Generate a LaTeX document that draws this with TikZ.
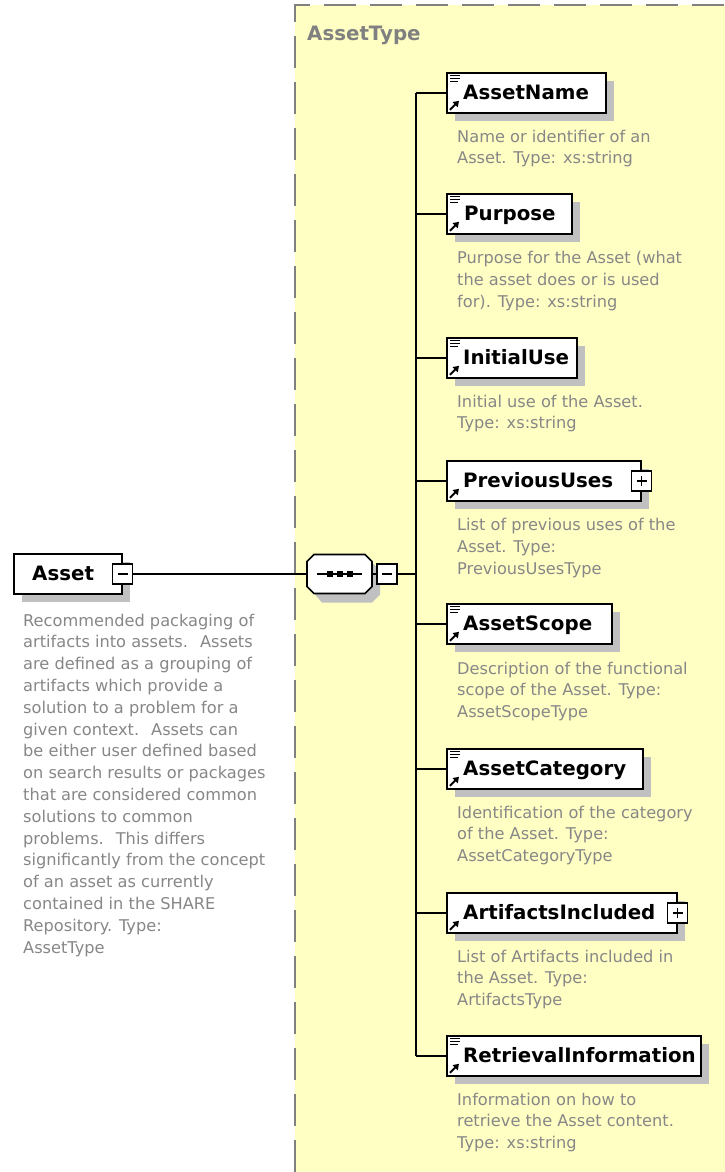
\documentclass[tikz,border=0pt]{standalone}
\usepackage{fontspec}
\setmainfont{DejaVu Sans}
\usetikzlibrary{shadows,arrows.meta}
\definecolor{bgyellow}{RGB}{255,255,196}
\definecolor{descgray}{RGB}{135,135,135}
\definecolor{shadowgray}{RGB}{192,192,192}
\definecolor{bordergray}{RGB}{128,128,128}
\begin{document}
\begin{tikzpicture}[x=1pt,y=-1pt,
  elembox/.style={draw=black, line width=1.6pt, fill=white, minimum height=40pt, inner sep=0pt, anchor=west,
    general shadow={fill=shadowgray, shadow xshift=8pt, shadow yshift=-8pt}},
  lbl/.style={font=\fontsize{19.8}{23}\selectfont\bfseries, inner sep=0pt, anchor=base west},
  desc/.style={font=\fontsize{16.2}{21.8}\selectfont, text=descgray, align=left, inner sep=0pt, anchor=base west},
  pmbox/.style={draw=black, line width=1.4pt, fill=white, minimum size=20pt, inner sep=0pt},
  conn/.style={line width=1.6pt, black},
  pmsign/.style={line width=1.4pt},
  iconline/.style={line width=1.1pt},
  iconarrow/.style={line width=2pt, -{Triangle[length=5.5pt,width=7pt]}}
]
\useasboundingbox (0,0) rectangle (725,1172);
\fill[white] (0,0) rectangle (725,1172);
% complex type region
\fill[bgyellow] (295,5) rectangle (725,1172);
\draw[bordergray, line width=2pt, dash pattern=on 32pt off 14pt] (295,1172) -- (295,5) -- (725,5);
\node[font=\fontsize{19.8}{23}\selectfont\bfseries, text=bordergray, inner sep=0pt, anchor=base west] (title) at (307,41) {AssetType};

% root element
\node[elembox, minimum width=108pt] (asset) at (13,574) {};
\node[lbl] (assetL) at (32,580.5) {Asset};
\node[pmbox] (assetM) at (asset.east) {};
\draw[pmsign] ([xshift=-5pt]assetM.center) -- ([xshift=5pt]assetM.center);
% anchor base = baseline of last line
\node[desc] (assetD) at (23,953) {Recommended packaging of\\artifacts into assets.~ Assets\\are defined as a grouping of\\artifacts which provide a\\solution to a problem for a\\given context.~ Assets can\\be either user defined based\\on search results or packages\\that are considered common\\solutions to common\\problems.~ This differs\\significantly from the concept\\of an asset as currently\\contained in the SHARE\\Repository. Type:\\AssetType};

% sequence compositor (octagon)
\fill[shadowgray] (322,562.5) -- (372,562.5) -- (380,570.5) -- (380,594.5) -- (372,602.5) -- (322,602.5) -- (315,594.5) -- (315,570.5) -- cycle;
\draw[line width=1.6pt, fill=white] (314,554.5) -- (365,554.5) -- (372,561.5) -- (372,586.5) -- (365,593.5) -- (314,593.5) -- (307,586.5) -- (307,561.5) -- cycle;
\node[minimum width=65pt, minimum height=39pt, inner sep=0pt] (seq) at (339.5,574) {};
\draw[line width=1.4pt] ([xshift=10pt]seq.west) -- ([xshift=-10pt]seq.east);
\foreach \dx in {-10,0,10} \fill ([xshift=\dx pt]seq.center) +(-3,-3) rectangle +(3,3);
\node[pmbox] (seqM) at (387,574) {};
\draw[pmsign] ([xshift=-5pt]seqM.center) -- ([xshift=5pt]seqM.center);
\coordinate (sp) at (416,574);

\draw[conn] (assetM.east) -- (seq.west);
\draw[conn] (seq.east) -- (seqM.west);
\draw[conn] (seqM.east) -- (sp);

% child elements
\node[elembox, minimum width=159pt] (an) at (446,93) {};
\node[elembox, minimum width=125pt] (pu) at (446,214) {};
\node[elembox, minimum width=130pt] (iu) at (446,358) {};
\node[elembox, minimum width=194pt] (pv) at (446,481) {};
\node[elembox, minimum width=165pt] (as) at (446,624) {};
\node[elembox, minimum width=196pt] (ac) at (446,769) {};
\node[elembox, minimum width=230pt] (ai) at (446,913) {};
\node[elembox, minimum width=254pt] (ri) at (446,1056) {};

\node[lbl] (anL) at (463,99.5) {AssetName};
\node[lbl] (puL) at (464,220.5) {Purpose};
\node[lbl] (iuL) at (463,364.5) {InitialUse};
\node[lbl] (pvL) at (463,487.5) {PreviousUses};
\node[lbl] (asL) at (463,630.5) {AssetScope};
\node[lbl] (acL) at (463,775.5) {AssetCategory};
\node[lbl] (aiL) at (463,919.5) {ArtifactsIncluded};
\node[lbl] (riL) at (463,1062.5) {RetrievalInformation};

\node[pmbox] (pvP) at (pv.east) {};
\draw[pmsign] ([xshift=-5pt]pvP.center) -- ([xshift=5pt]pvP.center);
\draw[pmsign] ([yshift=-5pt]pvP.center) -- ([yshift=5pt]pvP.center);
\node[pmbox] (aiP) at (ai.east) {};
\draw[pmsign] ([xshift=-5pt]aiP.center) -- ([xshift=5pt]aiP.center);
\draw[pmsign] ([yshift=-5pt]aiP.center) -- ([yshift=5pt]aiP.center);

% icons
\foreach \n in {an,pu,iu,as,ac,ri}{
  \draw[iconline] ([shift={(4,3)}]\n.north west) -- ++(10,0);
  \draw[iconline] ([shift={(4,6)}]\n.north west) -- ++(10,0);
  \draw[iconline] ([shift={(4,9)}]\n.north west) -- ++(8,0);
}
\foreach \n in {an,pu,iu,pv,as,ac,ai,ri}{
  \draw[iconarrow] ([shift={(4,-4)}]\n.south west) -- ++(9,-9);
}

% descriptions (anchor base = baseline of last line)
\node[desc] (anD) at (457,163.8) {Name or identifier of an\\Asset. Type: xs:string};
\node[desc] (puD) at (457,307) {Purpose for the Asset (what\\the asset does or is used\\for). Type: xs:string};
\node[desc] (iuD) at (457,428.8) {Initial use of the Asset.\\Type: xs:string};
\node[desc] (pvD) at (457,574) {List of previous uses of the\\Asset. Type:\\PreviousUsesType};
\node[desc] (asD) at (457,717.6) {Description of the functional\\scope of the Asset. Type:\\AssetScopeType};
\node[desc] (acD) at (457,861.6) {Identification of the category\\of the Asset. Type:\\AssetCategoryType};
\node[desc] (aiD) at (457,1005.6) {List of Artifacts included in\\the Asset. Type:\\ArtifactsType};
\node[desc] (riD) at (457,1148.6) {Information on how to\\retrieve the Asset content.\\Type: xs:string};

% connectors
\draw[conn] (sp |- an.west) -- (sp |- ri.west);
\foreach \n in {an,pu,iu,pv,as,ac,ai,ri}{
  \draw[conn] (sp |- \n.west) -- (\n.west);
}
\end{tikzpicture}
\end{document}
